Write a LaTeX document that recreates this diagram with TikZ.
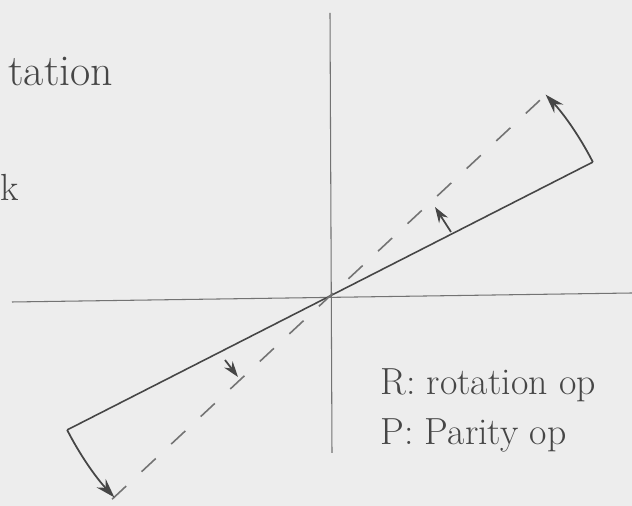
\documentclass[tikz,border=0pt]{standalone}
\usepackage{xcolor}
\usepackage{tikz}
\usetikzlibrary{arrows.meta}
\definecolor{paper}{RGB}{237,237,237}
\definecolor{pencil}{RGB}{70,70,70}
\definecolor{axisline}{RGB}{115,115,115}

\begin{document}
\begin{tikzpicture}[x=0.02cm, y=0.02cm,
  axis/.style={draw=axisline, line width=0.6pt},
  vec/.style={draw=pencil, line width=0.9pt},
  rotated/.style={draw=axisline, line width=0.9pt, dash pattern=on 11pt off 12pt},
  turn/.style={draw=pencil, line width=1pt, -{Stealth[length=11pt,width=7pt]}},
  hint/.style={draw=pencil, line width=1pt, -{Stealth[length=9pt,width=6pt]}},
  note/.style={text=pencil, font=\fontsize{21.5}{26}\selectfont, inner sep=0pt, anchor=base west}]
\fill[paper] (-330,-210) rectangle (302,296);
\useasboundingbox (-330,-210) rectangle (302,296);
% axes
\coordinate (O) at (0,0);
\coordinate (xl) at (-318,-6);
\coordinate (xr) at (302,3);
\coordinate (yt) at (0,283);
\coordinate (yb) at (2,-157);
\draw[axis] (xl) -- (xr);
\draw[axis] (yt) -- (yb);
% vector and its rotated image
\coordinate (s1) at (27:295);
\coordinate (s2) at (207:295);
\coordinate (d1) at (43:298);
\coordinate (d2) at (223:298);
\draw[vec] (s2) -- (s1);
\draw[rotated] (d2) -- (d1);
\draw[turn] (s1) arc[start angle=27, end angle=43, radius=296];
\draw[turn] (s2) arc[start angle=207, end angle=223, radius=296];
% small direction marks
\coordinate (h1a) at (121,64);
\coordinate (h1b) at (105,89);
\coordinate (h2a) at (-105,-64);
\coordinate (h2b) at (-92,-81);
\draw[hint] (h1a) -- (h1b);
\draw[hint] (h2a) -- (h2b);
% labels
\node[note, font=\fontsize{25}{28}\selectfont] (rot) at (-322,210) {tation};
\node[note] (frag) at (-330,95) {k};
\node[note] (Rop) at (50,-99) {R: rotation op};
\node[note] (Pop) at (50,-149) {P: Parity op};
\end{tikzpicture}
\end{document}
